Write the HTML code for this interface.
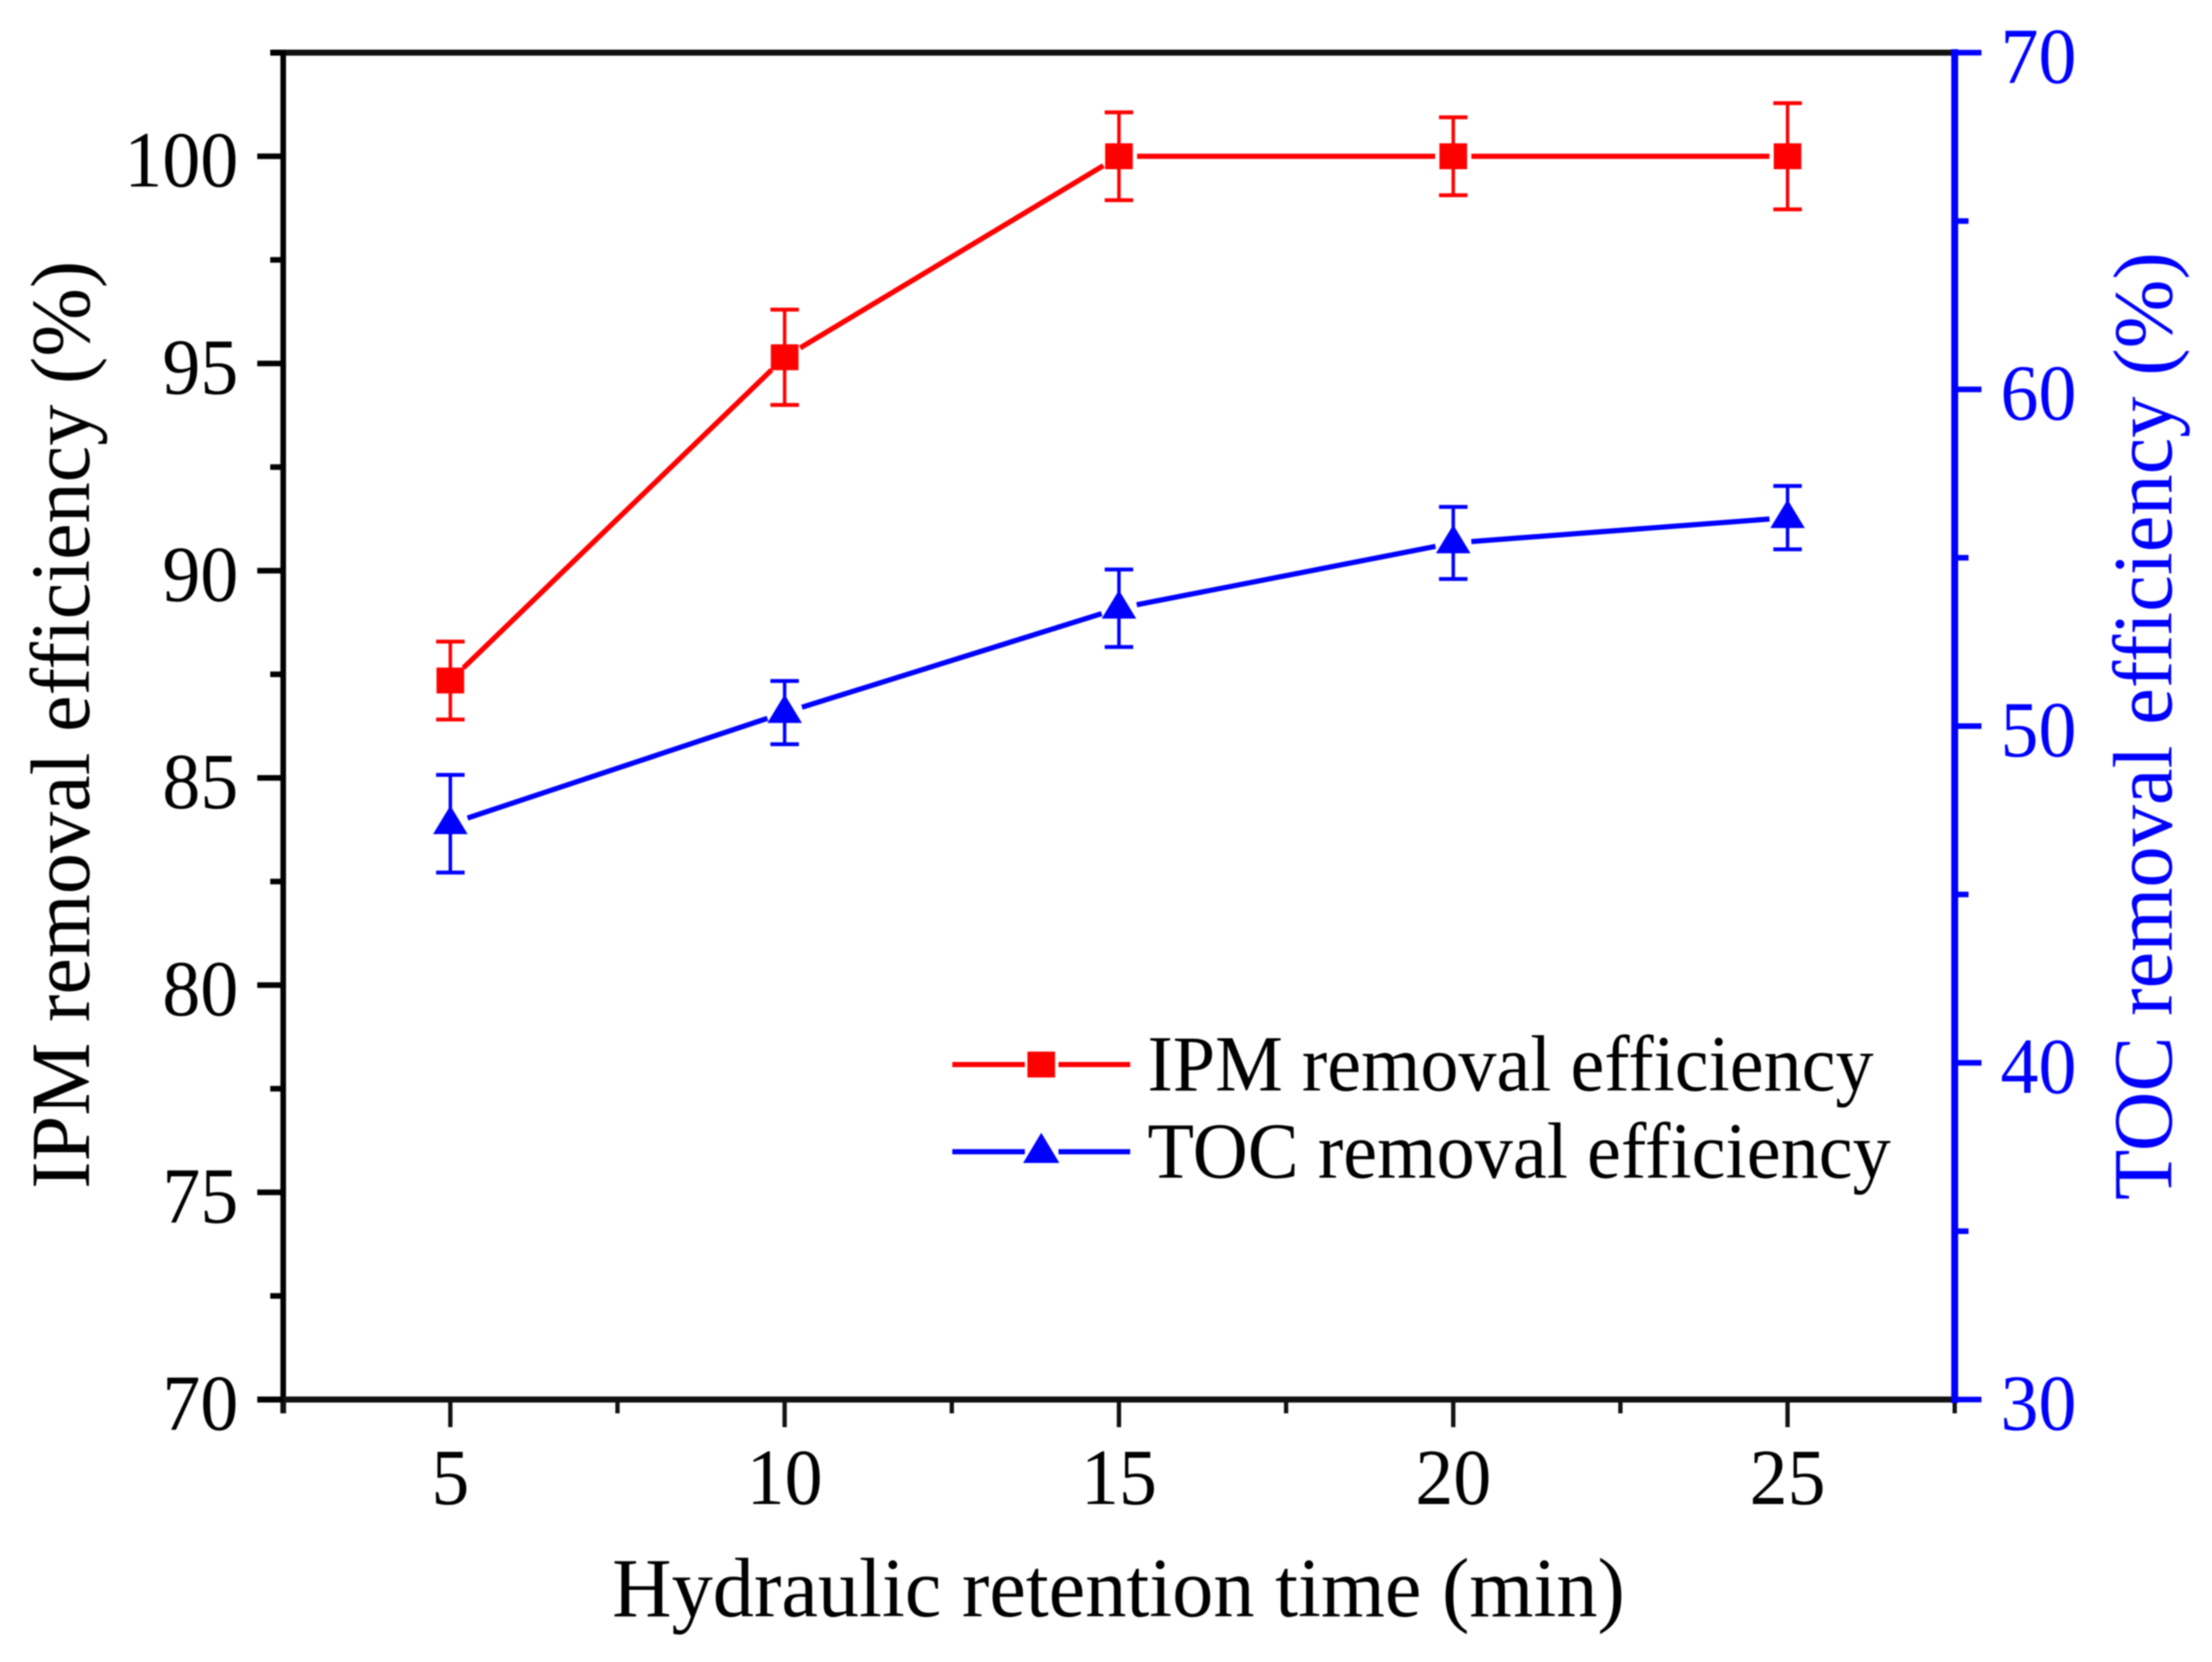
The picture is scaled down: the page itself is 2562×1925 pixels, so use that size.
<!DOCTYPE html>
<html lang="en">
<head>
<meta charset="utf-8">
<title>IPM and TOC removal efficiency vs hydraulic retention time</title>
<style>
html,body{margin:0;padding:0;background:#fff;}
svg{display:block;filter:blur(0.7px);}
text{font-family:"Liberation Serif","Times New Roman",serif;}
</style>
</head>
<body>
<svg id="chart" xmlns="http://www.w3.org/2000/svg" width="2562" height="1925" viewBox="0 0 2562 1925">
  <rect x="0" y="0" width="2562" height="1925" fill="#fff"/>
  <g id="axes"></g>
  <g id="series"></g>

  <g>
    <g>
      <line x1="1103" y1="1233" x2="1187" y2="1233" stroke="#f00" stroke-width="6"/>
      <line x1="1226" y1="1233" x2="1309" y2="1233" stroke="#f00" stroke-width="6"/>
      <rect x="1190" y="1218" width="32" height="30" fill="#f00"/>
      <text x="1329" y="1263" font-size="92" textLength="841" lengthAdjust="spacingAndGlyphs" fill="#000">IPM removal efficiency</text>
    </g>
    <g>
      <line x1="1103" y1="1334" x2="1187" y2="1334" stroke="#00f" stroke-width="6"/>
      <line x1="1226" y1="1334" x2="1309" y2="1334" stroke="#00f" stroke-width="6"/>
      <polygon points="1206,1312 1227,1347 1185,1347" fill="#00f"/>
      <text x="1329" y="1364" font-size="92" textLength="861" lengthAdjust="spacingAndGlyphs" fill="#000">TOC removal efficiency</text>
    </g>
  </g>

  <text x="709" y="1872" font-size="98" textLength="1173" lengthAdjust="spacingAndGlyphs" fill="#000">Hydraulic retention time (min)</text>
  <text transform="translate(103,1377) rotate(-90)" font-size="98" textLength="1075" lengthAdjust="spacingAndGlyphs" fill="#000">IPM removal efficiency (%)</text>
  <text transform="translate(2515,1390) rotate(-90)" font-size="98" textLength="1098" lengthAdjust="spacingAndGlyphs" fill="#00f">TOC removal efficiency (%)</text>
</svg>

<script>
// ---- chart data ----
const categories = [5, 10, 15, 20, 25];
const ipmValues = [87.35, 95.15, 100, 100, 100];
const ipmErrors = [0.94, 1.15, 1.06, 0.94, 1.28];
const tocValues = [47.1, 50.4, 53.5, 55.44, 56.19];
const tocErrors = [1.45, 0.94, 1.15, 1.07, 0.94];
const xTickLabels = [5, 10, 15, 20, 25];
const xMinorTicks = [2.5, 7.5, 12.5, 17.5, 22.5, 27.5];
const leftTickLabels = [70, 75, 80, 85, 90, 95, 100];
const leftMinorTicks = [72.5, 77.5, 82.5, 87.5, 92.5, 97.5, 102.5];
const rightTickLabels = [30, 40, 50, 60, 70];
const rightMinorTicks = [35, 45, 55, 65];

// ---- axis functions ----
const xPx = v => 328 + (v - 2.5) * (2264 - 328) / 25;
const yLeftPx = v => 1621 - (v - 70) * (1621 - 61) / 32.5;
const yRightPx = v => 1621 - (v - 30) * (1621 - 61) / 40;

const NS = 'http://www.w3.org/2000/svg';
const axes = document.getElementById('axes');
const series = document.getElementById('series');

function node(tag, attrs, parent) {
  const el = document.createElementNS(NS, tag);
  for (const k in attrs) el.setAttribute(k, attrs[k]);
  parent.appendChild(el);
  return el;
}
function segment(x1, y1, x2, y2, color, width, parent) {
  return node('line', {x1, y1, x2, y2, stroke: color, 'stroke-width': width}, parent);
}
function label(str, x, y, anchor, color, parent) {
  const s = String(str);
  const el = node('text', {x, y, 'text-anchor': anchor, 'font-size': 92, fill: color, textLength: s.length * 44, lengthAdjust: 'spacingAndGlyphs'}, parent);
  el.textContent = s;
  return el;
}

// ---- axis lines ----
let el;
el = segment(313, 61, 2264, 61, '#111', 7, axes);


el = segment(328, 58, 328, 1637, '#000', 6.5, axes);


el = segment(298, 1621, 2264, 1621, '#111', 7, axes);



// ---- x ticks ----
xTickLabels.forEach(v => {
  const tick = segment(xPx(v), 1621, xPx(v), 1653, '#111', 5, axes);
  
  
  const text = label(v, xPx(v), 1742, 'middle', '#000', axes);
  
  
});
xMinorTicks.forEach(v => {
  const tick = segment(xPx(v), 1621, xPx(v), 1637, '#111', 5, axes);
  
  
});

// ---- left y ticks ----
leftTickLabels.forEach(v => {
  const tick = segment(298, yLeftPx(v), 328, yLeftPx(v), '#000', 6.5, axes);
  
  
  const text = label(v, 276, yLeftPx(v) + 35, 'end', '#000', axes);
  
  
});
leftMinorTicks.forEach(v => {
  const tick = segment(313, yLeftPx(v), 328, yLeftPx(v), '#000', 6.5, axes);
  
  
});

// ---- right y axis ----
el = segment(2264, 57, 2264, 1625, '#00f', 8, axes);


rightTickLabels.forEach(v => {
  const tick = segment(2264, yRightPx(v), 2295, yRightPx(v), '#00f', 6.5, axes);
  
  
  const text = label(v, 2317, yRightPx(v) + 35, 'start', '#00f', axes);
  
  
});
rightMinorTicks.forEach(v => {
  const tick = segment(2264, yRightPx(v), 2280, yRightPx(v), '#00f', 6.5, axes);
  
  
});

// ---- series drawing ----
const LINE_GAP = 21;
function drawLines(values, yFn, color, name) {
  for (let i = 0; i < values.length - 1; i++) {
    const x1 = xPx(categories[i]), y1 = yFn(values[i]);
    const x2 = xPx(categories[i + 1]), y2 = yFn(values[i + 1]);
    const len = Math.hypot(x2 - x1, y2 - y1);
    const ux = (x2 - x1) / len, uy = (y2 - y1) / len;
    const seg = segment(x1 + ux * LINE_GAP, y1 + uy * LINE_GAP, x2 - ux * LINE_GAP, y2 - uy * LINE_GAP, color, 6, series);
    
    
  }
}
function drawErrors(values, errors, yFn, color, name) {
  values.forEach((v, i) => {
    const x = xPx(categories[i]);
    const top = yFn(v + errors[i]), bottom = yFn(v - errors[i]);
    const stem = segment(x, top, x, bottom, color, 4, series);
    
    
    const capTop = segment(x - 16.5, top, x + 16.5, top, color, 4.5, series);
    
    
    const capBottom = segment(x - 16.5, bottom, x + 16.5, bottom, color, 4.5, series);
    
    
  });
}

drawLines(ipmValues, yLeftPx, '#f00', 'ipm');
drawErrors(ipmValues, ipmErrors, yLeftPx, '#f00', 'ipm');
drawLines(tocValues, yRightPx, '#00f', 'toc');
drawErrors(tocValues, tocErrors, yRightPx, '#00f', 'toc');

ipmValues.forEach((v, i) => {
  const x = xPx(categories[i]), y = yLeftPx(v);
  const m = node('rect', {x: x - 16, y: y - 15, width: 32, height: 30, fill: '#f00'}, series);
  
  
});
tocValues.forEach((v, i) => {
  const x = xPx(categories[i]), y = yRightPx(v);
  const m = node('polygon', {points: `${x},${y - 21} ${x + 20},${y + 12} ${x - 20},${y + 12}`, fill: '#00f'}, series);
  
  
});
</script>
</body>
</html>
